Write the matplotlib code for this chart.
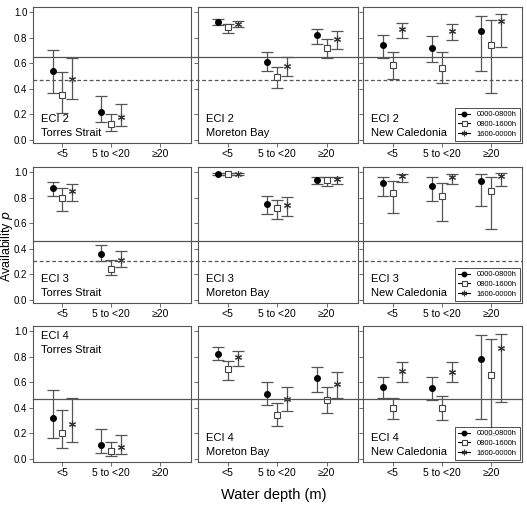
import matplotlib
matplotlib.use("Agg")
import matplotlib.pyplot as plt
import matplotlib.transforms as mtransforms
from matplotlib.lines import Line2D

plt.rcParams['font.family'] = ['Liberation Sans', 'DejaVu Sans']

depths = ['<5', '5 to <20', '≥20']
periods = ['0000-0800h', '0800-1600h', '1600-0000h']
rows = ['ECI 2', 'ECI 3', 'ECI 4']
sites = ['Torres Strait', 'Moreton Bay', 'New Caledonia']

# (estimate, lower, upper) per depth, for each period; None = no data
# ECI 2
eci2_ts = [
    [(0.54, 0.37, 0.70), (0.22, 0.14, 0.34), None],
    [(0.35, 0.21, 0.53), (0.12, 0.07, 0.20), None],
    [(0.48, 0.32, 0.64), (0.18, 0.11, 0.28), None],
]
eci2_mb = [
    [(0.92, 0.90, 0.945), (0.61, 0.54, 0.69), (0.82, 0.75, 0.87)],
    [(0.88, 0.84, 0.905), (0.49, 0.405, 0.57), (0.72, 0.64, 0.79)],
    [(0.91, 0.885, 0.93), (0.58, 0.50, 0.65), (0.79, 0.71, 0.85)],
]
eci2_nc = [
    [(0.74, 0.64, 0.82), (0.72, 0.61, 0.81), (0.85, 0.54, 0.97)],
    [(0.585, 0.475, 0.69), (0.565, 0.445, 0.685), (0.745, 0.365, 0.935)],
    [(0.87, 0.80, 0.915), (0.855, 0.78, 0.905), (0.93, 0.725, 0.985)],
]
# ECI 3
eci3_ts = [
    [(0.875, 0.81, 0.925), (0.36, 0.30, 0.43), None],
    [(0.80, 0.695, 0.875), (0.245, 0.195, 0.31), None],
    [(0.85, 0.775, 0.905), (0.315, 0.255, 0.38), None],
]
eci3_mb = [
    [(0.985, 0.978, 0.992), (0.75, 0.675, 0.815), (0.94, 0.91, 0.963)],
    [(0.985, 0.978, 0.992), (0.72, 0.635, 0.78), (0.935, 0.895, 0.963)],
    [(0.985, 0.978, 0.992), (0.74, 0.66, 0.805), (0.943, 0.91, 0.963)],
]
eci3_nc = [
    [(0.915, 0.815, 0.963), (0.895, 0.775, 0.96), (0.927, 0.735, 0.982)],
    [(0.84, 0.68, 0.93), (0.81, 0.62, 0.915), (0.855, 0.555, 0.965)],
    [(0.97, 0.925, 0.987), (0.963, 0.903, 0.987), (0.973, 0.888, 0.995)],
]
# ECI 4
eci4_ts = [
    [(0.32, 0.165, 0.535), (0.11, 0.045, 0.23), None],
    [(0.20, 0.085, 0.385), (0.065, 0.025, 0.13), None],
    [(0.27, 0.13, 0.475), (0.09, 0.037, 0.185), None],
]
eci4_mb = [
    [(0.82, 0.77, 0.875), (0.51, 0.42, 0.605), (0.63, 0.525, 0.72)],
    [(0.70, 0.62, 0.765), (0.345, 0.26, 0.435), (0.46, 0.355, 0.56)],
    [(0.795, 0.73, 0.845), (0.465, 0.375, 0.56), (0.585, 0.475, 0.68)],
]
eci4_nc = [
    [(0.56, 0.475, 0.64), (0.555, 0.463, 0.643), (0.785, 0.31, 0.97)],
    [(0.40, 0.315, 0.48), (0.395, 0.305, 0.49), (0.66, 0.19, 0.94)],
    [(0.685, 0.605, 0.757), (0.683, 0.598, 0.757), (0.87, 0.445, 0.98)],
]

panels = [
    [eci2_ts, eci2_mb, eci2_nc],
    [eci3_ts, eci3_mb, eci3_nc],
    [eci4_ts, eci4_mb, eci4_nc],
]
solid_lines = [0.65, 0.46, 0.47]
dashed_lines = [0.47, 0.30, None]

markers = [dict(marker='o', mfc='black', mec='black', ms=4),
           dict(marker='s', mfc='white', mec='#444444', ms=4.5, mew=0.8),
           dict(marker=(6, 2, 0), mfc='none', mec='#333333', ms=5, mew=0.8)]
offsets = [-0.2, 0.0, 0.2]

fig = plt.figure(figsize=(5.27, 5.13), dpi=100)
lefts = [33, 198, 363]
widths = [158, 160, 159]
tops = [7, 167, 326]
W, H = 527, 513
axes = []
for r in range(3):
    row_axes = []
    for c in range(3):
        ax = fig.add_axes([lefts[c] / W, (H - tops[r] - 136) / H, widths[c] / W, 136 / H])
        row_axes.append(ax)
    axes.append(row_axes)

for r in range(3):
    for c in range(3):
        ax = axes[r][c]
        data = panels[r][c]
        for p in range(3):
            for d in range(3):
                v = data[p][d]
                if v is None:
                    continue
                est, lo, hi = v
                x = d + 1 + offsets[p]
                ax.errorbar([x], [est], yerr=[[est - lo], [hi - est]], fmt='none',
                            ecolor='#555555', elinewidth=0.9, capsize=4, capthick=0.9, zorder=2)
                ax.plot([x], [est], linestyle='none', zorder=3, **markers[p])
        ax.set_xlim(0.4, 3.63)
        ax.set_ylim(-0.025, 1.04)
        ax.set_xticks([1, 2, 3])
        ax.set_xticklabels(depths, fontsize=7.5)
        ax.set_yticks([0.0, 0.2, 0.4, 0.6, 0.8, 1.0])
        if c == 0:
            ax.set_yticklabels(['0.0', '0.2', '0.4', '0.6', '0.8', '1.0'], fontsize=7)
        else:
            ax.set_yticklabels([])
        ax.tick_params(length=3, width=0.6, color='#555555', pad=1)
        for s in ax.spines.values():
            s.set_color('#555555')
            s.set_linewidth(0.8)
        label = rows[r] + '\n' + sites[c]
        if r == 2 and c == 0:
            ax.text(0.05, 0.96, label, transform=ax.transAxes, fontsize=8,
                    va='top', ha='left', linespacing=1.4)
        else:
            ax.text(0.05, 0.04, label, transform=ax.transAxes, fontsize=8,
                    va='bottom', ha='left', linespacing=1.4)
        if c == 2:
            handles = [Line2D([0], [0], color='black', lw=0.8, **markers[p]) for p in range(3)]
            leg = ax.legend(handles, periods, loc='lower right', fontsize=5.5,
                            frameon=True, fancybox=False, edgecolor='black',
                            handlelength=1.6, borderpad=0.4, labelspacing=0.3,
                            borderaxespad=0.3, markerscale=0.8)
            leg.get_frame().set_linewidth(0.6)

# horizontal reference lines spanning the row
x0 = lefts[0] / W
x1 = (lefts[2] + widths[2]) / W
for r in range(3):
    trans = mtransforms.blended_transform_factory(fig.transFigure, axes[r][0].transData)
    fig.add_artist(Line2D([x0, x1], [solid_lines[r]] * 2, transform=trans,
                          color='#555555', lw=0.9, zorder=1))
    if dashed_lines[r] is not None:
        fig.add_artist(Line2D([x0, x1], [dashed_lines[r]] * 2, transform=trans,
                              color='#555555', lw=0.9, ls=(0, (3, 2)), zorder=1))

fig.text(0.013, 0.52, 'Availability $p$', rotation=90, fontsize=9, va='center', ha='center')
fig.text(0.52, 0.035, 'Water depth (m)', fontsize=10.5, va='center', ha='center')

fig.savefig('out.png', dpi=100)
